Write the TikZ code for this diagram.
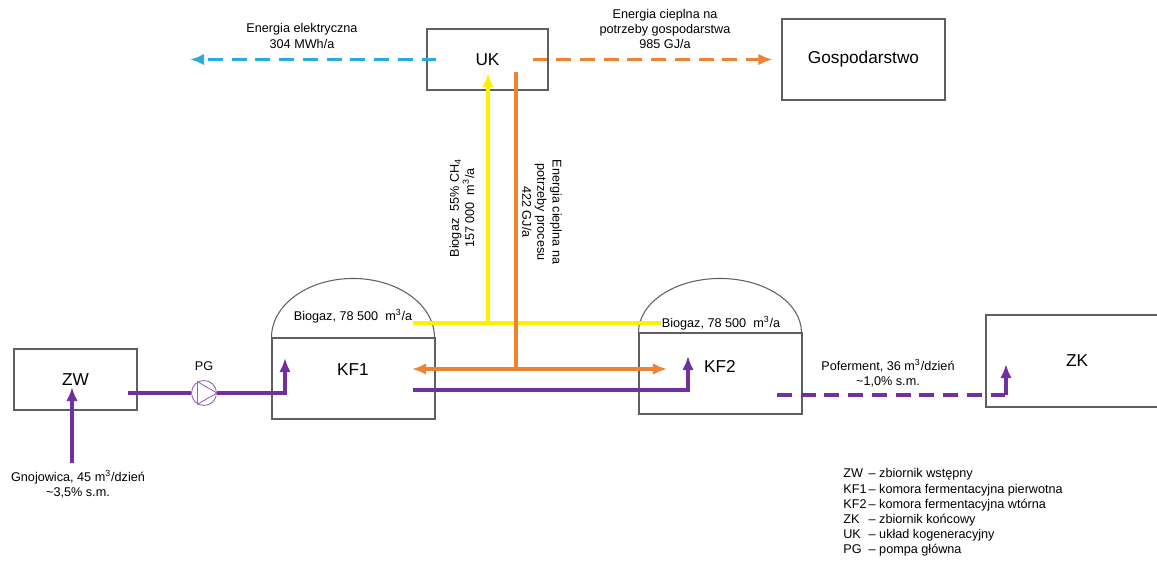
\documentclass[tikz,border=0pt]{standalone}
\usepackage{fontspec}
\setmainfont{Liberation Sans}
\usetikzlibrary{arrows.meta}
\definecolor{elec}{RGB}{41,170,225}
\definecolor{heat}{RGB}{236,130,50}
\definecolor{gas}{RGB}{255,240,0}
\definecolor{slurry}{RGB}{112,48,160}
\definecolor{edge}{RGB}{95,95,95}
\tikzstyle{block} = [draw=edge, line width=0.6pt, rectangle, inner sep=0pt]
\tikzstyle{title} = [font=\fontsize{9.8}{11}\selectfont]
\tikzstyle{note} = [font=\fontsize{7.2}{8.6}\selectfont, align=center, inner sep=0pt]
\tikzstyle{pipe} = [line width=1.9pt]
\tikzstyle{dashpipe} = [pipe, dash pattern=on 8.5pt off 5pt]

\begin{document}
\begin{tikzpicture}[x=0.2mm, y=-0.2mm, >={Latex[length=8pt,width=6.5pt]}]
	\useasboundingbox (0,0) rectangle (1157,561);

	% COGENERATION
	\node[block, title, minimum width=24.2mm, minimum height=12.2mm] (uk) at (487.5,59.5) {UK};
	\node[block, title, minimum width=32.6mm, minimum height=16.2mm] (farm) at (863.5,59.5) {Gospodarstwo};
	\coordinate (elecend) at (190,59.5);
	\draw[dashpipe, elec, ->] ([xshift=2mm]uk.west) -- (elecend);
	\draw[dashpipe, heat, ->] ([xshift=-3.2mm]uk.east) -- ([xshift=-1.8mm]farm.west);
	\node[note] (eleclabel) at (302,36) {Energia elektryczna\\304 MWh/a};
	\node[note] (farmheat) at (665,29) {Energia cieplna na\\potrzeby gospodarstwa\\985 GJ/a};

	% DIGESTERS
	\node[block, minimum width=32.6mm, minimum height=16.2mm] (kf1) at (353.5,378.5) {};
	\draw[draw=edge, line width=0.6pt] (kf1.north west) arc[start angle=180, end angle=0, x radius=16.3mm, y radius=11.8mm];
	\node[title] (kf1name) at (353,370) {KF1};
	\node[note] (kf1gas) at (353,316) {Biogaz, 78 500\ \ m\textsuperscript{3}/a};

	\node[block, minimum width=32.6mm, minimum height=16.2mm] (kf2) at (720.5,373.5) {};
	\draw[draw=edge, line width=0.6pt] (kf2.north west) arc[start angle=180, end angle=0, x radius=16.3mm, y radius=10.8mm];
	\node[title] (kf2name) at (720,366) {KF2};
	\node[note] (kf2gas) at (721,323) {Biogaz, 78 500\ \ m\textsuperscript{3}/a};

	% TANKS
	\node[block, title, minimum width=24.6mm, minimum height=12.2mm] (zw) at (75.5,379.5) {ZW};
	\node[block, title, minimum width=36.4mm, minimum height=18.4mm] (zk) at (1077,361) {ZK};
	\node[circle, draw=slurry!75, line width=0.5pt, minimum size=5mm, inner sep=0pt] (pg) at (204,393) {};
	\draw[slurry!75, line width=0.5pt] (pg.east) -- (pg.120) -- (pg.240) -- cycle;
	\node[note] (pglabel) at (204,366) {PG};

	% BIOGAS
	\coordinate (gasjoin) at (488,323);
	\coordinate (gastip) at (488,73);
	\draw[pipe, gas] (gasjoin -| kf1gas.east) -- (gasjoin -| kf2gas.west);
	\draw[pipe, gas, ->] (gasjoin) -- (gastip);
	\node[note, rotate=90] (gaslabel) at (462,208) {Biogaz\ \ 55\% CH\textsubscript{4}\\157 000\ \ m\textsuperscript{3}/a};

	% PROCESS HEAT
	\coordinate (heattop) at (516,72);
	\coordinate (heatjoin) at (516,369);
	\coordinate (heatl) at (412,369);
	\coordinate (heatr) at (667,369);
	\draw[pipe, heat] (heattop) -- (heatjoin);
	\draw[pipe, heat, <->] (heatl) -- (heatr);
	\node[note, rotate=-90] (procheat) at (542,212) {Energia cieplna na\\potrzeby procesu\\422 GJ/a};

	% SLURRY
	\coordinate (manure) at (72,463);
	\coordinate (zwfeed) at (72,387);
	\coordinate (zwout) at (128,393);
	\coordinate (kf1feed) at (285,358);
	\coordinate (kf1out) at (413,390);
	\coordinate (kf2feed) at (688,356);
	\coordinate (kf2out) at (777,395);
	\coordinate (zkfeed) at (1006,364);
	\draw[pipe, slurry, ->] (manure) -- (zwfeed);
	\draw[pipe, slurry] (zwout) -- (pg.west);
	\draw[pipe, slurry, ->] (pg.east) -| (kf1feed);
	\draw[pipe, slurry, ->] (kf1out) -| (kf2feed);
	\draw[dashpipe, slurry] (kf2out) -- (kf2out -| zkfeed);
	\draw[pipe, slurry, ->] (kf2out -| zkfeed) -- (zkfeed);
	\node[note] (inlabel) at (78,484) {Gnojowica, 45 m\textsuperscript{3}/dzień\\\textasciitilde3,5\% s.m.};
	\node[note] (outlabel) at (888,373) {Poferment, 36 m\textsuperscript{3}/dzień\\\textasciitilde1,0\% s.m.};

	% LEGEND
	\node[note, align=left, anchor=north west] (legend) at (843,467) {%
		\begin{tabular}{@{}l@{\,}l@{}}
		ZW & -- zbiornik wstępny\\
		KF1 & -- komora fermentacyjna pierwotna\\
		KF2 & -- komora fermentacyjna wtórna\\
		ZK & -- zbiornik końcowy\\
		UK & -- układ kogeneracyjny\\
		PG & -- pompa główna
		\end{tabular}};

\end{tikzpicture}
\end{document}
